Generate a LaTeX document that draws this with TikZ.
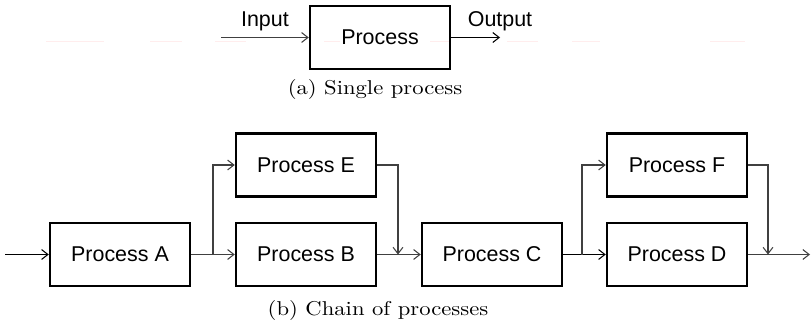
\documentclass[tikz,border=0pt]{standalone}
\usepackage{fontspec}
\setmainfont{Liberation Sans}
\newfontfamily\capfont[FakeStretch=1.13]{lmroman10-regular.otf}
\usepackage{tikz}
\usetikzlibrary{arrows.meta}
\tikzset{>={Straight Barb[length=3.6pt,width=5.6pt]}}
\tikzstyle{proc} = [rectangle, draw, line width=1.4pt, minimum width=2.8cm, minimum height=1.26cm, inner sep=0, font=\fontsize{12.2}{14}\selectfont]
\tikzstyle{lbl} = [draw=none, font=\fontsize{12.2}{14}\selectfont, text=black]
\tikzstyle{flow} = [->, draw=black!75, line width=0.6pt]
\tikzstyle{link} = [-, draw=black!75, line width=0.6pt]
\tikzstyle{subcap} = [draw=none, font=\capfont\fontsize{11.4}{13}\selectfont]

\begin{document}
\begin{tikzpicture}
\useasboundingbox (0, 0) rectangle (16.22, 6.54);
% faint rule behind the top row
\foreach \a/\b in {0.92/2.08, 3.0/3.64, 4.3/4.92, 6.48/6.8, 8.6/9.02, 10.14/10.76, 11.44/12.0, 14.2/14.9}
  \draw [red!7, line width=0.5pt] (\a, 5.72) -- (\b, 5.72);
% single process
\node [proc] (P) at (7.6, 5.79) {Process};
\coordinate (in) at (4.42, 5.79);
\coordinate (out) at (10.0, 5.79);
\draw [flow] (in) to node[pos=0.5, above, lbl] {Input} (P);
\draw [flow, draw=black] (P) to node[pos=1, above, lbl] {Output} (out);
\node [subcap] (capA) at (7.5, 4.75) {(a) Single process};
% chain of processes
\node [proc] (A) at (2.4, 1.45) {Process A};
\node [proc] (B) at (6.12, 1.45) {Process B};
\node [proc] (E) at (6.12, 3.24) {Process E};
\node [proc] (C) at (9.84, 1.45) {Process C};
\node [proc] (D) at (13.54, 1.45) {Process D};
\node [proc] (F) at (13.54, 3.24) {Process F};
\coordinate (start) at (0.1, 1.45);
\coordinate (end) at (16.2, 1.45);
\coordinate (s1) at (4.26, 1.45);
\coordinate (j1) at (7.96, 1.45);
\coordinate (s2) at (11.64, 1.45);
\coordinate (j2) at (15.36, 1.45);
\draw [flow, draw=black] (start) to (A);
\draw [link] (A) to (s1);
\draw [flow] (s1) to (B);
\draw [flow] (s1) |- (E);
\draw [flow] (E) -| (j1);
\draw [flow] (B) to (C);
\draw [link, draw=black] (C) to (s2);
\draw [flow, draw=black] (s2) to (D);
\draw [flow] (s2) |- (F);
\draw [flow] (F) -| (j2);
\draw [flow] (D) to (end);
\node [subcap] (capB) at (7.56, 0.34) {(b) Chain of processes};
\end{tikzpicture}
\end{document}
